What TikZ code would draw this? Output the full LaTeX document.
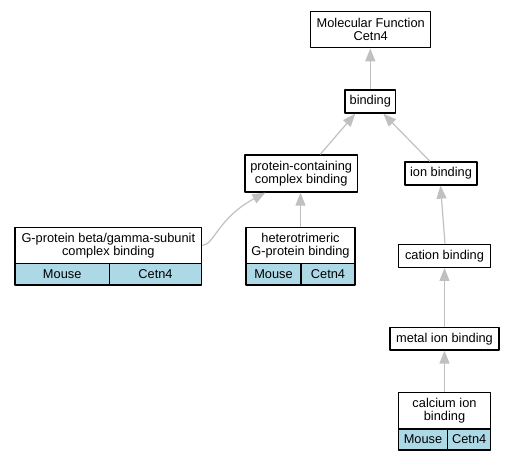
\documentclass[tikz,border=0pt]{standalone}
\usepackage{fontspec}
\setmainfont{Liberation Sans}
\usetikzlibrary{calc,arrows.meta}
\definecolor{lightblue}{HTML}{ADD8E6}
\definecolor{edgegray}{HTML}{C0C0C0}

\begin{document}
\begin{tikzpicture}[
    x=1pt,
    y=-1pt,
    line join=round,
    >={Triangle[length=13pt,width=10pt]},
    box/.style={draw=black,line width=1.3pt,fill=white,inner sep=0pt,
        align=center,font=\fontsize{12.8}{13.3}\selectfont},
    cell/.style={box,fill=lightblue,minimum height=21.5pt},
    edge/.style={draw=edgegray,line width=1.2pt,->}
]
\useasboundingbox (0,0) rectangle (513,461);

% terms
\node[box,minimum width=120pt,minimum height=36pt] (mf) at (370.7,29.7) {Molecular Function\\Cetn4};
\node[box,minimum width=50.7pt,minimum height=23pt] (bind) at (370.3,101.5) {binding};
\node[box,minimum width=112.3pt,minimum height=37pt] (pcb) at (301.2,173.5) {protein-containing\\complex binding};
\node[box,minimum width=72pt,minimum height=23pt] (ion) at (441,173.5) {ion binding};
\node[box,minimum width=92.4pt,minimum height=23pt] (cat) at (444.5,255.8) {cation binding};
\node[box,minimum width=109pt,minimum height=22.3pt] (met) at (444.5,338.8) {metal ion binding};

\node[box,minimum width=186.7pt,minimum height=35.6pt] (gbg) at (108.3,245.5) {G-protein beta/gamma-subunit\\complex binding};
\node[cell,minimum width=94.3pt] (gbgm) at (62.2,274.2) {Mouse};
\node[cell,minimum width=92.4pt] (gbgc) at (155.5,274.2) {Cetn4};

\node[box,minimum width=109pt,minimum height=35.6pt] (het) at (300.5,245.5) {heterotrimeric\\G-protein binding};
\node[cell,minimum width=55pt] (hetm) at (273.5,274.2) {Mouse};
\node[cell,minimum width=54pt] (hetc) at (328,274.2) {Cetn4};

\node[box,minimum width=92.4pt,minimum height=36.3pt] (cal) at (444.5,410.8) {calcium ion\\binding};
\node[cell,minimum width=49.4pt,minimum height=21pt] (calm) at (423,439.5) {Mouse};
\node[cell,minimum width=43pt,minimum height=21pt] (calc) at (469.2,439.5) {Cetn4};

\draw[edge] (bind.north) -- (bind.north |- mf.south);
\draw[edge] ($(pcb.north)+(19,0)$) -- ($(bind.south)+(-15,0)$);
\draw[edge] ($(ion.north)+(-11,0)$) -- ($(bind.south)+(13,0)$);
\draw[edge] (het.north) -- (het.north |- pcb.south);
\draw[edge] (gbg.east) .. controls (214,245) and (218,218) .. ($(pcb.south west)+(21,0)$);
\draw[edge] ($(cat.north)+(0.5,0)$) -- ($(ion.south)+(-0.5,0)$);
\draw[edge] (met.north) -- (cat.south);
\draw[edge] (cal.north) -- (met.south);

\end{tikzpicture}
\end{document}
